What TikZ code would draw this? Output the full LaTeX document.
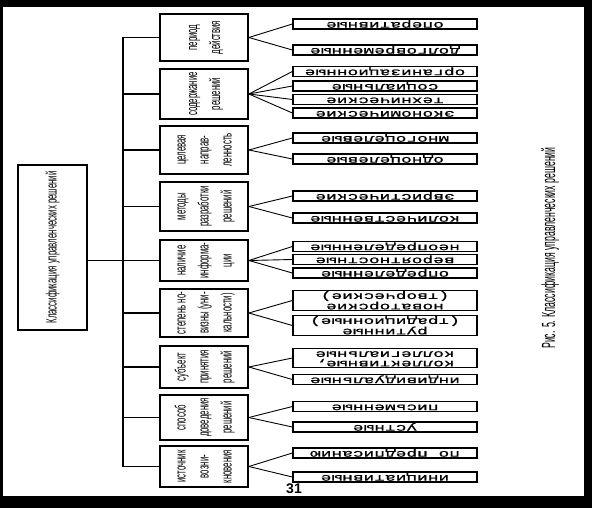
\documentclass[tikz,border=0pt]{standalone}
\usepackage{fontspec}
\usepackage{graphicx}
\setmainfont{Liberation Sans}
\newfontfamily\narrowfont[FakeStretch=0.52]{Liberation Sans}
\newfontfamily\capfont[FakeStretch=0.46]{Liberation Sans}
\newfontfamily\leaffont[FakeStretch=1.7,FakeBold=1.2]{Liberation Mono}
\newcommand\mtxt[1]{\rotatebox{90}{\begin{tabular}{@{}c@{}}#1\end{tabular}}}
\newcommand\rtxt[1]{\rotatebox{180}{\begin{tabular}{@{}c@{}}#1\end{tabular}}}
\tikzset{
  rootbox/.style={draw, line width=2.4pt, minimum width=69pt, minimum height=165pt, inner sep=0pt,
    font={\narrowfont\fontsize{15}{16}\selectfont}},
  midbox/.style={draw, line width=1.8pt, minimum width=88pt, inner sep=0pt,
    font={\narrowfont\fontsize{15}{23}\selectfont}},
  leafbox/.style={draw, line width=1.3pt, minimum width=184pt, minimum height=10pt, inner sep=0pt,
    font={\leaffont\fontsize{10.5}{9.5}\selectfont}},
  fan/.style={line width=0.9pt},
  bus/.style={line width=1.4pt},
  captxt/.style={inner sep=0pt, font={\capfont\fontsize{19}{20}\selectfont}},
  pagenum/.style={inner sep=0pt, font={\bfseries\fontsize{14}{16}\selectfont}}
}
\begin{document}
\begin{tikzpicture}[x=1pt,y=-1pt]
\fill[black] (0,0) rectangle (592,508);
\fill[white] (3,7) rectangle (584,496);
\useasboundingbox (0,0) rectangle (592,508);

% root
\node[rootbox] (root) at (52.5,247.5) {\rotatebox{90}{Классификация управленческих решений}};

% middle boxes
\node[midbox, minimum height=47pt] (m1) at (204,37.5) {\mtxt{период\\действия}};
\node[midbox, minimum height=50pt] (m2) at (204,94) {\mtxt{содержание\\решений}};
\node[midbox, minimum height=48pt] (m3) at (204,150) {\mtxt{целевая\\направ-\\ленность}};
\node[midbox, minimum height=49pt] (m4) at (204,206.5) {\mtxt{методы\\разработки\\решений}};
\node[midbox, minimum height=41pt] (m5) at (204,260.5) {\mtxt{наличие\\информа-\\ции}};
\node[midbox, minimum height=48pt] (m6) at (204,313) {\mtxt{степень но-\\визны (уни-\\кальности)}};
\node[midbox, minimum height=42pt] (m7) at (204,367) {\mtxt{субъект\\принятия\\решений}};
\node[midbox, minimum height=45pt] (m8) at (204,417.5) {\mtxt{способ\\доведения\\решений}};
\node[midbox, minimum height=41pt] (m9) at (204,466.5) {\mtxt{источник\\возни-\\кновения}};

% bus
\coordinate (bt) at (123,37.5);
\coordinate (bb) at (123,466.5);
\draw[bus] (bt) -- (bb);
\foreach \m in {m1,m2,m3,m4,m6,m7,m8,m9}
  \draw[bus] (bt |- \m.west) -- (\m.west);
\draw[bus] (root.east |- m5.west) -- (m5.west);

% leaves
\node[leafbox] (r1) at (385,24) {\rtxt{оперативные}};
\node[leafbox] (r2) at (385,50) {\rtxt{долговременные}};
\node[leafbox] (r3) at (385,71.5) {\rtxt{организационные}};
\node[leafbox] (r4) at (385,86) {\rtxt{социальные}};
\node[leafbox] (r5) at (385,99.5) {\rtxt{технические}};
\node[leafbox] (r6) at (385,113) {\rtxt{экономические}};
\node[leafbox] (r7) at (385,138) {\rtxt{многоцелевые}};
\node[leafbox] (r8) at (385,159) {\rtxt{одноцелевые}};
\node[leafbox] (r9) at (385,196) {\rtxt{эвристические}};
\node[leafbox] (r10) at (385,218) {\rtxt{количественные}};
\node[leafbox] (r11) at (385,246.5) {\rtxt{неопределенные}};
\node[leafbox] (r12) at (385,259.5) {\rtxt{вероятностные}};
\node[leafbox] (r13) at (385,273) {\rtxt{определенные}};
\node[leafbox, minimum height=19pt] (r14) at (385,300.5) {\rtxt{новаторские\\(творческие)}};
\node[leafbox, minimum height=19pt] (r15) at (385,325.5) {\rtxt{рутинные\\(традиционные)}};
\node[leafbox, minimum height=18pt] (r16) at (385,358) {\rtxt{коллективные,\\коллегиальные}};
\node[leafbox] (r17) at (385,379.5) {\rtxt{индивидуальные}};
\node[leafbox] (r18) at (385,406.5) {\rtxt{письменные}};
\node[leafbox] (r19) at (385,427) {\rtxt{устные}};
\node[leafbox] (r20) at (385,453) {\rtxt{по предписанию}};
\node[leafbox] (r21) at (385,477) {\rtxt{инициативные}};

% fans
\foreach \m/\r in {m1/r1,m1/r2,m2/r3,m2/r4,m2/r5,m2/r6,m3/r7,m3/r8,m4/r9,m4/r10,
  m5/r11,m5/r12,m5/r13,m6/r14,m6/r15,m7/r16,m7/r17,m8/r18,m8/r19,m9/r20,m9/r21}
  \draw[fan] (\m.east) -- (\r.west);

% caption and page number
\node[captxt, rotate=90] (cap) at (550,248) {Рис. 5. Классификация управленческих решений};
\node[pagenum] (pg) at (294,489) {31};
\end{tikzpicture}
\end{document}
